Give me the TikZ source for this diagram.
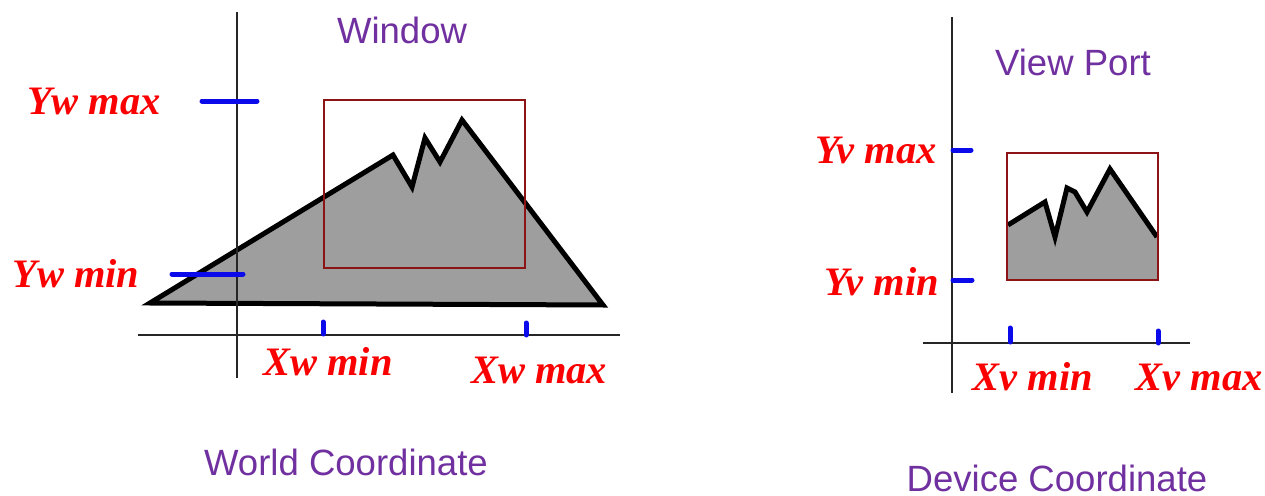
\documentclass[tikz,border=0pt]{standalone}
\usepackage{fontspec}
\setmainfont{Liberation Serif}
\newfontfamily\titlefont{Liberation Sans}
\definecolor{tickblue}{RGB}{10,10,235}
\definecolor{labelred}{RGB}{250,0,0}
\definecolor{framered}{RGB}{140,20,20}
\definecolor{titlepurple}{RGB}{112,48,160}
\definecolor{hillgray}{RGB}{158,158,158}
\tikzset{
  axis/.style={line width=0.22mm, black!85},
  tick/.style={line width=0.5mm, tickblue, line cap=round},
  frame/.style={line width=0.2mm, framered},
  hill/.style={line width=0.5mm, fill=hillgray, line join=miter},
  coordlabel/.style={text=labelred, font=\fontsize{11.5}{13}\selectfont\bfseries\itshape, inner sep=0pt},
  title/.style={text=titlepurple, font=\titlefont\fontsize{10.4}{12}\selectfont, inner sep=0pt}
}
\begin{document}
\begin{tikzpicture}[x=0.1mm,y=-0.1mm]
\useasboundingbox (0,0) rectangle (1265,496);
% world coordinate
\draw [hill] (150,303) -- (393,155) -- (412,187) -- (425,138) -- (440,162) -- (462,120) -- (603,305) -- cycle;
\draw [frame] (324,100) rectangle (525,268);
\draw [axis] (237,12) -- (237,378);
\draw [axis] (138,335) -- (620,335);
\draw [tick] (202,101) -- (257,101);
\draw [tick] (172,274) -- (243,274);
\draw [tick] (323,322) -- (323,334);
\draw [tick] (526,323) -- (526,335);
\node [coordlabel] (ywmax) at (94,101) {Yw max};
\node [coordlabel] (ywmin) at (76,274) {Yw min};
\node [coordlabel] (xwmin) at (328,362) {Xw min};
\node [coordlabel] (xwmax) at (539,370) {Xw max};
\node [title] (window) at (402,30) {Window};
\node [title] (world) at (346,462) {World Coordinate};
% device coordinate
\draw [fill=hillgray, draw=none] (1008,225) -- (1045,202) -- (1055,237) -- (1067,188) -- (1075,192) -- (1087,212) -- (1110,169) -- (1157,237) -- (1157,280) -- (1008,280) -- cycle;
\draw [hill, fill=none] (1008,225) -- (1045,202) -- (1055,237) -- (1067,188) -- (1075,192) -- (1087,212) -- (1110,169) -- (1157,237);
\draw [frame] (1007,153) rectangle (1158,280);
\draw [axis] (952,17) -- (952,393);
\draw [axis] (923,343) -- (1190,343);
\draw [tick] (953,150) -- (971,150);
\draw [tick] (953,280) -- (972,280);
\draw [tick] (1010,328) -- (1010,342);
\draw [tick] (1158,331) -- (1158,343);
\node [coordlabel] (yvmax) at (876,150) {Yv max};
\node [coordlabel] (yvmin) at (882,282) {Yv min};
\node [coordlabel] (xvmin) at (1033,377) {Xv min};
\node [coordlabel] (xvmax) at (1199,377) {Xv max};
\node [title] (viewport) at (1073,62) {View Port};
\node [title] (device) at (1057,478) {Device Coordinate};
\end{tikzpicture}
\end{document}
